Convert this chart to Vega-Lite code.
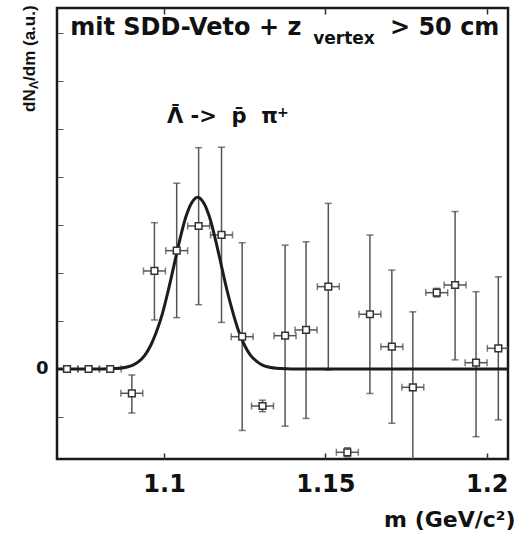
{
  "$schema": "https://vega.github.io/schema/vega-lite/v6.json",
  "width": 451,
  "height": 451,
  "autosize": "none",
  "padding": {"left": 57, "top": 8, "right": 19, "bottom": 80},
  "background": "white",
  "config": {"view": {"stroke": "#1a1a1a", "strokeWidth": 2.5}, "font": "DejaVu Sans"},
  "datasets": {
    "pts": [
      {"m": 1.0699, "y": 0, "ylo": 0, "yhi": 0, "mlo": 1.0665, "mhi": 1.0733},
      {"m": 1.0766, "y": 0, "ylo": 0, "yhi": 0, "mlo": 1.0732, "mhi": 1.0800},
      {"m": 1.0833, "y": 0, "ylo": 0, "yhi": 0, "mlo": 1.0799, "mhi": 1.0867},
      {"m": 1.0900, "y": -5.06, "ylo": -9.17, "yhi": -1.25, "mlo": 1.0866, "mhi": 1.0934},
      {"m": 1.0970, "y": 20.42, "ylo": 10.21, "yhi": 30.48, "mlo": 1.0936, "mhi": 1.1004},
      {"m": 1.1039, "y": 24.65, "ylo": 10.7, "yhi": 38.7, "mlo": 1.1005, "mhi": 1.1073},
      {"m": 1.1107, "y": 29.79, "ylo": 13.4, "yhi": 46.1, "mlo": 1.1073, "mhi": 1.1141},
      {"m": 1.1178, "y": 27.92, "ylo": 9.7, "yhi": 46.2, "mlo": 1.1144, "mhi": 1.1212},
      {"m": 1.1242, "y": 6.73, "ylo": -12.8, "yhi": 26.3, "mlo": 1.1208, "mhi": 1.1276},
      {"m": 1.1305, "y": -7.71, "ylo": -8.9, "yhi": -6.5, "mlo": 1.1271, "mhi": 1.1339},
      {"m": 1.1375, "y": 6.94, "ylo": -11.9, "yhi": 25.8, "mlo": 1.1341, "mhi": 1.1409},
      {"m": 1.1440, "y": 8.13, "ylo": -10.3, "yhi": 26.5, "mlo": 1.1406, "mhi": 1.1474},
      {"m": 1.1509, "y": 17.15, "ylo": -0.2, "yhi": 34.5, "mlo": 1.1475, "mhi": 1.1543},
      {"m": 1.1568, "y": -17.35, "ylo": -18.3, "yhi": -16.4, "mlo": 1.1534, "mhi": 1.1602},
      {"m": 1.1638, "y": 11.40, "ylo": -5.1, "yhi": 27.9, "mlo": 1.1604, "mhi": 1.1672},
      {"m": 1.1706, "y": 4.65, "ylo": -11.3, "yhi": 20.6, "mlo": 1.1672, "mhi": 1.1740},
      {"m": 1.1771, "y": -3.81, "ylo": -19.6, "yhi": 11.9, "mlo": 1.1737, "mhi": 1.1805},
      {"m": 1.1845, "y": 15.90, "ylo": 15.0, "yhi": 16.8, "mlo": 1.1811, "mhi": 1.1879},
      {"m": 1.1902, "y": 17.5, "ylo": 1.9, "yhi": 32.8, "mlo": 1.1868, "mhi": 1.1936},
      {"m": 1.1967, "y": 1.31, "ylo": -14.1, "yhi": 16.1, "mlo": 1.1933, "mhi": 1.2001},
      {"m": 1.2036, "y": 4.31, "ylo": -10.6, "yhi": 19.2, "mlo": 1.2002, "mhi": 1.2070}
    ],
    "curve": [
      {"m": 1.0668, "y": 0}, {"m": 1.0812, "y": 0}, {"m": 1.0849, "y": 0.08},
      {"m": 1.0885, "y": 0.40}, {"m": 1.0903, "y": 0.81}, {"m": 1.0922, "y": 1.58},
      {"m": 1.0940, "y": 2.85}, {"m": 1.0958, "y": 4.85}, {"m": 1.0976, "y": 7.7},
      {"m": 1.0995, "y": 11.6}, {"m": 1.1013, "y": 16.4}, {"m": 1.1031, "y": 21.7},
      {"m": 1.1049, "y": 27.0}, {"m": 1.1067, "y": 31.6}, {"m": 1.1086, "y": 34.7},
      {"m": 1.1104, "y": 35.8}, {"m": 1.1122, "y": 34.7}, {"m": 1.1141, "y": 31.6},
      {"m": 1.1159, "y": 27.0}, {"m": 1.1177, "y": 21.7}, {"m": 1.1195, "y": 16.4},
      {"m": 1.1214, "y": 11.6}, {"m": 1.1232, "y": 7.7}, {"m": 1.1250, "y": 4.85},
      {"m": 1.1268, "y": 2.85}, {"m": 1.1287, "y": 1.58}, {"m": 1.1305, "y": 0.81},
      {"m": 1.1323, "y": 0.40}, {"m": 1.1360, "y": 0.08}, {"m": 1.1396, "y": 0},
      {"m": 1.2066, "y": 0}
    ]
  },
  "layer": [
    {
      "data": {"name": "pts"},
      "mark": {"type": "rule", "color": "#555", "strokeWidth": 1.5, "clip": true},
      "encoding": {
        "x": {
          "field": "m", "type": "quantitative",
          "scale": {"domain": [1.0668, 1.2066], "nice": false, "zero": false},
          "axis": {
            "orient": "bottom", "values": [1.1, 1.15, 1.2], "format": "~g",
            "tickSize": -6, "tickColor": "#333", "tickWidth": 1.5,
            "labelPadding": 19, "labelFontSize": 24, "labelFont": "DejaVu Sans", "labelFontWeight": "bold",
            "labelColor": "#111", "labelFlush": false, "labelOverlap": false, "labelBound": false,
            "domain": false, "grid": false,
            "title": "m (GeV/c²)", "titleFont": "DejaVu Sans", "titleFontSize": 22, "titleFontWeight": "bold",
            "titleColor": "#111", "titleAnchor": "end", "titleAlign": "right", "titleBaseline": "alphabetic",
            "titleX": 458, "titleY": 67
          }
        },
        "y": {
          "field": "ylo", "type": "quantitative",
          "scale": {"domain": [-18.75, 75.2], "nice": false, "zero": false},
          "axis": {
            "orient": "left", "values": [-10, 0, 10, 20, 30, 40, 50, 60, 70],
            "labelExpr": "datum.value == 0 ? '0' : ''",
            "tickSize": -6, "tickColor": "#555", "tickWidth": 1,
            "labelPadding": 15, "labelFontSize": 18, "labelFont": "DejaVu Sans", "labelFontWeight": "bold",
            "labelColor": "#111", "labelOverlap": false, "labelBound": false, "labelFlush": false,
            "domain": false, "grid": false, "title": null
          }
        },
        "y2": {"field": "yhi"}
      }
    },
    {
      "data": {"name": "pts"},
      "mark": {"type": "rule", "color": "#555", "strokeWidth": 1.5, "clip": true},
      "encoding": {
        "x": {"field": "mlo", "type": "quantitative", "axis": null},
        "x2": {"field": "mhi"},
        "y": {"field": "y", "type": "quantitative"}
      }
    },
    {
      "data": {"name": "pts"},
      "mark": {"type": "tick", "orient": "horizontal", "color": "#444", "size": 7, "thickness": 1.5, "clip": true},
      "encoding": {
        "x": {"field": "m", "type": "quantitative", "axis": null},
        "y": {"field": "ylo", "type": "quantitative"}
      }
    },
    {
      "data": {"name": "pts"},
      "mark": {"type": "tick", "orient": "horizontal", "color": "#444", "size": 7, "thickness": 1.5, "clip": true},
      "encoding": {
        "x": {"field": "m", "type": "quantitative", "axis": null},
        "y": {"field": "yhi", "type": "quantitative"}
      }
    },
    {
      "data": {"name": "pts"},
      "mark": {"type": "tick", "orient": "vertical", "color": "#444", "size": 7, "thickness": 1.5, "clip": true},
      "encoding": {
        "x": {"field": "mlo", "type": "quantitative", "axis": null},
        "y": {"field": "y", "type": "quantitative"}
      }
    },
    {
      "data": {"name": "pts"},
      "mark": {"type": "tick", "orient": "vertical", "color": "#444", "size": 7, "thickness": 1.5, "clip": true},
      "encoding": {
        "x": {"field": "mhi", "type": "quantitative", "axis": null},
        "y": {"field": "y", "type": "quantitative"}
      }
    },
    {
      "data": {"name": "curve"},
      "mark": {"type": "line", "color": "#1c1c1c", "strokeWidth": 3, "interpolate": "monotone", "clip": true},
      "encoding": {
        "x": {
          "field": "m", "type": "quantitative",
          "axis": {"orient": "top", "values": [1.1, 1.15, 1.2], "labels": false, "tickSize": -6,
                   "tickColor": "#333", "tickWidth": 1.5, "domain": false, "grid": false, "title": null}
        },
        "y": {"field": "y", "type": "quantitative"}
      }
    },
    {
      "data": {"name": "pts"},
      "mark": {"type": "point", "shape": "square", "filled": true, "fill": "white", "stroke": "#333",
               "strokeWidth": 1.5, "size": 45, "opacity": 1, "clip": true},
      "encoding": {
        "x": {"field": "m", "type": "quantitative", "axis": null},
        "y": {"field": "y", "type": "quantitative"}
      }
    },
    {
      "data": {"values": [
        {"m": 1.0709, "y": 69.58, "t": "mit SDD-Veto + z"},
        {"m": 1.1700, "y": 69.58, "t": "> 50 cm"}
      ]},
      "mark": {"type": "text", "font": "DejaVu Sans", "fontWeight": "bold", "fontSize": 24,
               "align": "left", "baseline": "alphabetic", "color": "#111"},
      "encoding": {
        "x": {"field": "m", "type": "quantitative", "axis": null},
        "y": {"field": "y", "type": "quantitative"},
        "text": {"field": "t"}
      }
    },
    {
      "data": {"values": [{"m": 1.1462, "y": 67.7, "t": "vertex"}]},
      "mark": {"type": "text", "font": "DejaVu Sans", "fontWeight": "bold", "fontSize": 17,
               "align": "left", "baseline": "alphabetic", "color": "#111"},
      "encoding": {
        "x": {"field": "m", "type": "quantitative", "axis": null},
        "y": {"field": "y", "type": "quantitative"},
        "text": {"field": "t"}
      }
    },
    {
      "data": {"values": [{"m": 1.1009, "y": 51.24, "t": "Λ ->\u00a0 p̄\u00a0 π"}]},
      "mark": {"type": "text", "font": "DejaVu Sans", "fontWeight": "bold", "fontSize": 21,
               "align": "left", "baseline": "alphabetic", "color": "#111"},
      "encoding": {
        "x": {"field": "m", "type": "quantitative", "axis": null},
        "y": {"field": "y", "type": "quantitative"},
        "text": {"field": "t"}
      }
    },
    {
      "data": {"values": [{"m": 1.1019, "y": 51.87, "t": "¯"}]},
      "mark": {"type": "text", "font": "DejaVu Sans", "fontWeight": "bold", "fontSize": 21,
               "align": "left", "baseline": "alphabetic", "color": "#111"},
      "encoding": {
        "x": {"field": "m", "type": "quantitative", "axis": null},
        "y": {"field": "y", "type": "quantitative"},
        "text": {"field": "t"}
      }
    },
    {
      "data": {"values": [{"m": 1.1350, "y": 52.49, "t": "+"}]},
      "mark": {"type": "text", "font": "DejaVu Sans", "fontWeight": "bold", "fontSize": 14,
               "align": "left", "baseline": "alphabetic", "color": "#111"},
      "encoding": {
        "x": {"field": "m", "type": "quantitative", "axis": null},
        "y": {"field": "y", "type": "quantitative"},
        "text": {"field": "t"}
      }
    },
    {
      "data": {"values": [
        {"m": 1.0600, "y": 53.54, "t": "dN"},
        {"m": 1.0600, "y": 60.0, "t": "/dm (a.u.)"}
      ]},
      "mark": {"type": "text", "font": "Liberation Sans", "fontWeight": "bold", "fontSize": 17, "angle": 270,
               "align": "left", "baseline": "alphabetic", "color": "#111"},
      "encoding": {
        "x": {"field": "m", "type": "quantitative", "axis": null},
        "y": {"field": "y", "type": "quantitative"},
        "text": {"field": "t"}
      }
    },
    {
      "data": {"values": [{"m": 1.06096, "y": 58.33, "t": "Λ"}]},
      "mark": {"type": "text", "font": "Liberation Sans", "fontWeight": "bold", "fontSize": 12, "angle": 270,
               "align": "left", "baseline": "alphabetic", "color": "#111"},
      "encoding": {
        "x": {"field": "m", "type": "quantitative", "axis": null},
        "y": {"field": "y", "type": "quantitative"},
        "text": {"field": "t"}
      }
    }
  ]
}
